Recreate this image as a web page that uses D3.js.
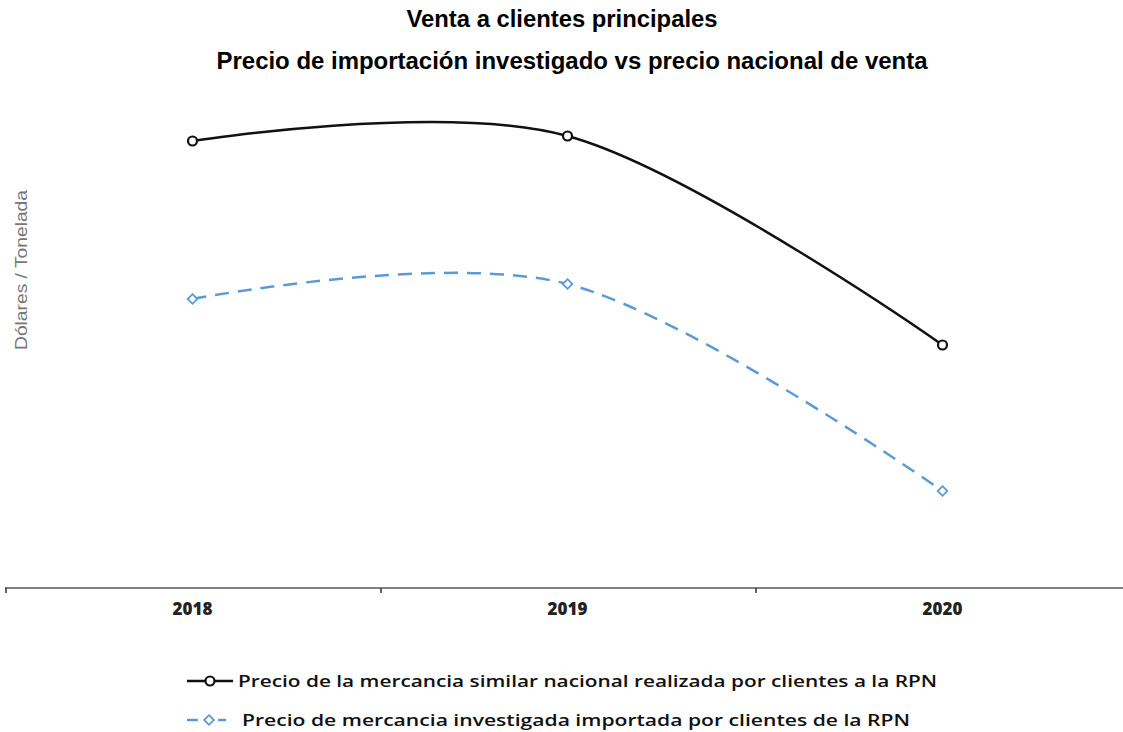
<!DOCTYPE html>
<html>
<head>
<meta charset="utf-8">
<script src="https://cdn.jsdelivr.net/npm/d3@7"></script>
<style>
  body { margin: 0; background: #fff; }
  svg { display: block; }
</style>
</head>
<body>
<svg width="1123" height="732"></svg>
<script>
// data (no y tick labels, so units are relative)
const years = ["2018", "2019", "2020"];
const nacional = [894, 904, 486];
const importado = [578, 608, 194];
const seriesNames = [
    "Precio de la mercancia similar nacional realizada por clientes a la RPN",
    "Precio de mercancia investigada importada por clientes de la RPN"
];

const svg = d3.select("svg");
const blue = "#5b9bd5";

// titles
svg.append("text")
    .attr("x", 562).attr("y", 27)
    .attr("text-anchor", "middle")
    .attr("textLength", 311).attr("lengthAdjust", "spacingAndGlyphs")
    .style("font", "bold 23px 'Liberation Sans', Arial, sans-serif")
    .text("Venta a clientes principales");
svg.append("text")
    .attr("x", 572).attr("y", 69)
    .attr("text-anchor", "middle")
    .attr("textLength", 711).attr("lengthAdjust", "spacingAndGlyphs")
    .style("font", "bold 23px 'Liberation Sans', Arial, sans-serif")
    .text("Precio de importación investigado vs precio nacional de venta");

const x = d3.scaleBand().domain(years).range([5, 1130]);
const y = d3.scaleLinear().domain([0, 1000]).range([588, 88]);

// x axis: ticks sit on the band edges
const g = svg.append("g");
g.append("line")
    .attr("x1", 5).attr("x2", 1123)
    .attr("y1", y(0)).attr("y2", y(0))
    .attr("stroke", "#555").attr("stroke-width", 1.6);
g.selectAll(".tick")
    .data(years)
    .enter().append("line")
    .attr("x1", d => x(d) + 1).attr("x2", d => x(d) + 1)
    .attr("y1", y(0)).attr("y2", y(0) + 5)
    .attr("stroke", "#333").attr("stroke-width", 1.5);
g.selectAll(".lbl")
    .data(years)
    .enter().append("text")
    .attr("x", d => x(d) + x.bandwidth() / 2)
    .attr("y", y(0) + 27)
    .attr("text-anchor", "middle")
    .style("font", "800 17px 'Open Sans', sans-serif")
    .attr("fill", "#222")
    .text(d => d);

// y label
svg.append("text")
    .attr("transform", "translate(27,270) rotate(-90)")
    .attr("text-anchor", "middle")
    .attr("textLength", 160).attr("lengthAdjust", "spacingAndGlyphs")
    .style("font", "17px 'Liberation Sans', Arial, sans-serif")
    .attr("fill", "#777")
    .text("Dólares / Tonelada");

const line = d3.line()
    .x((d, i) => x(years[i]) + x.bandwidth() / 2)
    .y(d => y(d))
    .curve(d3.curveCardinal);

svg.append("path")
    .datum(nacional)
    .attr("d", line)
    .attr("fill", "none")
    .attr("stroke", "#111")
    .attr("stroke-width", 2.5);

svg.append("path")
    .datum(importado)
    .attr("d", line)
    .attr("fill", "none")
    .attr("stroke", blue)
    .attr("stroke-width", 2.5)
    .attr("stroke-dasharray", "14,9");

svg.selectAll(".c")
    .data(nacional)
    .enter().append("circle")
    .attr("cx", (d, i) => x(years[i]) + x.bandwidth() / 2)
    .attr("cy", d => y(d))
    .attr("r", 4.5)
    .attr("fill", "#fff")
    .attr("stroke", "#111")
    .attr("stroke-width", 2.2);

const diamond = d3.symbol().type(d3.symbolDiamond2).size(60);
svg.selectAll(".dm")
    .data(importado)
    .enter().append("path")
    .attr("d", diamond)
    .attr("transform", (d, i) => `translate(${x(years[i]) + x.bandwidth() / 2},${y(d)})`)
    .attr("fill", "#fff")
    .attr("stroke", blue)
    .attr("stroke-width", 1.8);

// legend
const leg = svg.append("g");
leg.append("line")
    .attr("x1", 187).attr("x2", 233).attr("y1", 681).attr("y2", 681)
    .attr("stroke", "#111").attr("stroke-width", 2.5);
leg.append("circle")
    .attr("cx", 210).attr("cy", 681).attr("r", 4.5)
    .attr("fill", "#fff").attr("stroke", "#111").attr("stroke-width", 2.2);
leg.append("text")
    .attr("x", 238).attr("y", 687)
    .attr("textLength", 699).attr("lengthAdjust", "spacingAndGlyphs")
    .style("font", "600 16px 'Open Sans', sans-serif")
    .attr("fill", "#111")
    .text(seriesNames[0]);

leg.append("line")
    .attr("x1", 187).attr("x2", 226).attr("y1", 720).attr("y2", 720)
    .attr("stroke", blue).attr("stroke-width", 2.5)
    .attr("stroke-dasharray", "11,20");
leg.append("path")
    .attr("d", diamond)
    .attr("transform", "translate(209,720)")
    .attr("fill", "#fff").attr("stroke", blue).attr("stroke-width", 1.8);
leg.append("text")
    .attr("x", 242).attr("y", 726)
    .attr("textLength", 668).attr("lengthAdjust", "spacingAndGlyphs")
    .style("font", "600 16px 'Open Sans', sans-serif")
    .attr("fill", "#111")
    .text(seriesNames[1]);
</script>
</body>
</html>
